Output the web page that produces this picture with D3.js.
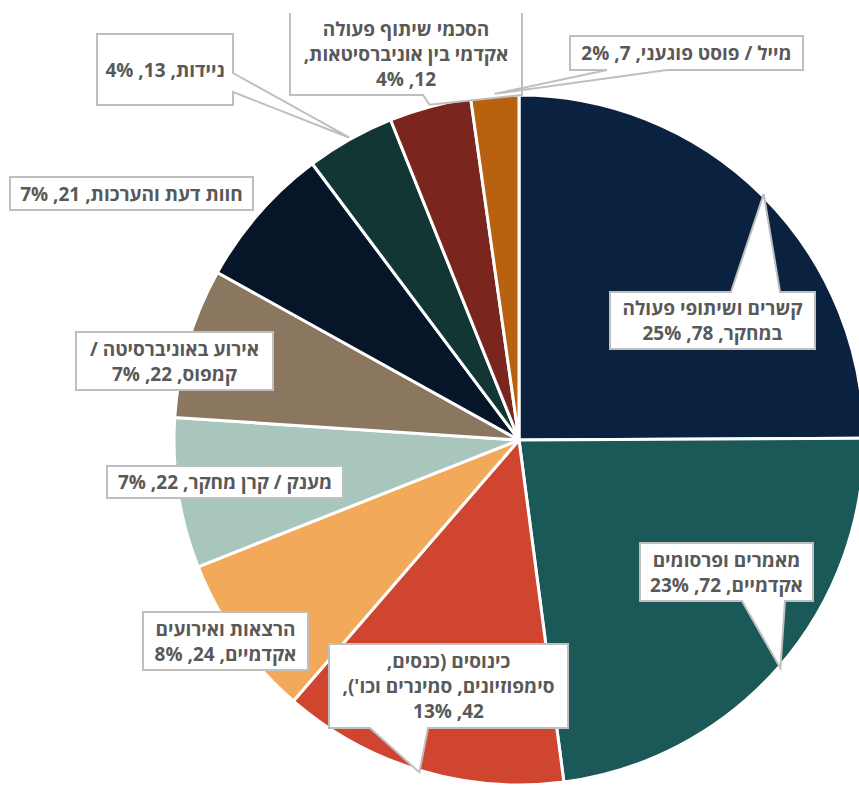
<!DOCTYPE html>
<html lang="he">
<head>
<meta charset="utf-8">
<script src="https://cdn.jsdelivr.net/npm/d3@7/dist/d3.min.js"></script>
<style>
  html, body { margin: 0; padding: 0; background: #ffffff; }
  svg { display: block; }
</style>
</head>
<body>
<svg id="chart" width="859" height="785"></svg>
<script>
// ---- data ----
const categories = [
  "קשרים ושיתופי פעולה במחקר",
  "מאמרים ופרסומים אקדמיים",
  "כינוסים (כנסים, סימפוזיונים, סמינרים וכו')",
  "הרצאות ואירועים אקדמיים",
  "מענק / קרן מחקר",
  "אירוע באוניברסיטה / קמפוס",
  "חוות דעת והערכות",
  "ניידות",
  "הסכמי שיתוף פעולה אקדמי בין אוניברסיטאות",
  "מייל / פוסט פוגעני"
];
const values = [78, 72, 42, 24, 22, 22, 21, 13, 12, 7];
// label text lines (category part, as wrapped in the chart)
const labelLines = [
  ["קשרים ושיתופי פעולה", "במחקר"],
  ["מאמרים ופרסומים", "אקדמיים"],
  ["כינוסים (כנסים,", "סימפוזיונים, סמינרים וכו'),", ""],
  ["הרצאות ואירועים", "אקדמיים"],
  ["מענק / קרן מחקר"],
  ["אירוע באוניברסיטה /", "קמפוס"],
  ["חוות דעת והערכות"],
  ["ניידות"],
  ["הסכמי שיתוף פעולה", "אקדמי בין אוניברסיטאות,", ""],
  ["מייל / פוסט פוגעני"]
];
const colors = ["#0a2240", "#1b5858", "#d0452f", "#f2a95a", "#a9c6bc", "#8b7660", "#061528", "#123633", "#7a261e", "#b8620f"];

// ---- layout (label boxes) ----
const boxes = [
  {x: 610, y: 292, w: 205, h: 57, edge: "top", a: 731, b: 780},
  {x: 640, y: 543, w: 173, h: 58, edge: "bottom", a: 742, b: 785},
  {x: 329, y: 644, w: 239, h: 84, edge: "bottom", a: 370, b: 428},
  {x: 143, y: 612, w: 165, h: 58},
  {x: 107, y: 466, w: 236, h: 32},
  {x: 76, y: 332, w: 197, h: 58},
  {x: 10, y: 177, w: 243, h: 33},
  {x: 97, y: 34, w: 136, h: 71, edge: "right", a: 73, b: 92},
  {x: 290, y: 13, w: 232, h: 82, edge: "bottom", a: 423, b: 522, openTop: true},
  {x: 570, y: 36, w: 233, h: 34, edge: "bottom", a: 607, b: 667}
];

const cx = 519, cy = 440, R = 345;
const total = d3.sum(values);
const svg = d3.select("#chart");
const g = svg.append("g").attr("transform", `translate(${cx},${cy})`);

const pie = d3.pie().sort(null).value(d => d)(values);
const arc = d3.arc().innerRadius(0).outerRadius(R);

g.selectAll("path.slice")
  .data(pie)
  .join("path")
  .attr("class", "slice")
  .attr("d", arc)
  .attr("fill", (d, i) => colors[i])
  .attr("stroke", "#ffffff")
  .attr("stroke-width", 3)
  .attr("stroke-linejoin", "round");

// label text
function labelText(i) {
  const pct = Math.round(values[i] / total * 100) + "%";
  const lines = labelLines[i].slice();
  const tail = values[i] + ", " + pct;
  const last = lines.length - 1;
  if (lines[last] === "") lines[last] = tail;
  else lines[last] = lines[last] + ", " + tail;
  return lines;
}

function calloutPath(b, tip) {
  const x0 = b.x, y0 = b.y, x1 = b.x + b.w, y1 = b.y + b.h;
  const p = d3.path();
  if (b.openTop) {
    p.moveTo(x0, y0);
    p.lineTo(x0, y1);
    p.lineTo(b.a, y1);
    p.lineTo(tip[0], tip[1]);
    p.lineTo(b.b, y1);
    p.lineTo(x1, y1);
    p.lineTo(x1, y0);
    return p.toString();
  }
  p.moveTo(x0, y0);
  if (b.edge === "top") { p.lineTo(b.a, y0); p.lineTo(tip[0], tip[1]); p.lineTo(b.b, y0); }
  p.lineTo(x1, y0);
  if (b.edge === "right") { p.lineTo(x1, b.a); p.lineTo(tip[0], tip[1]); p.lineTo(x1, b.b); }
  p.lineTo(x1, y1);
  if (b.edge === "bottom") { p.lineTo(b.b, y1); p.lineTo(tip[0], tip[1]); p.lineTo(b.a, y1); }
  p.lineTo(x0, y1);
  p.closePath();
  return p.toString();
}

const tipArc = d3.arc().innerRadius(R + 2).outerRadius(R + 2);
const labels = svg.append("g").attr("class", "labels");
pie.forEach((d, i) => {
  const b = boxes[i];
  const c = tipArc.centroid(d);
  const tip = [cx + c[0], cy + c[1]];
  const grp = labels.append("g");
  grp.append("path")
    .attr("d", calloutPath(b, tip))
    .attr("fill", "#ffffff")
    .attr("stroke", "#bfbfbf")
    .attr("stroke-width", 2)
    .attr("stroke-linejoin", "miter");
  const lines = labelText(i);
  const lh = 25;
  const midY = b.y + b.h / 2;
  const startY = midY - (lines.length - 1) * lh / 2;
  lines.forEach((t, k) => {
    grp.append("text")
      .attr("x", b.x + b.w / 2)
      .attr("y", startY + k * lh)
      .attr("direction", "rtl")
      .attr("text-anchor", "middle")
      .attr("dominant-baseline", "central")
      .attr("font-family", "'Open Sans', 'Noto Sans', 'Liberation Sans', 'DejaVu Sans', sans-serif")
      .attr("font-weight", "bold")
      .attr("font-size", 19)
      .attr("fill", "#595959")
      .text(t);
  });
});
</script>
</body>
</html>
